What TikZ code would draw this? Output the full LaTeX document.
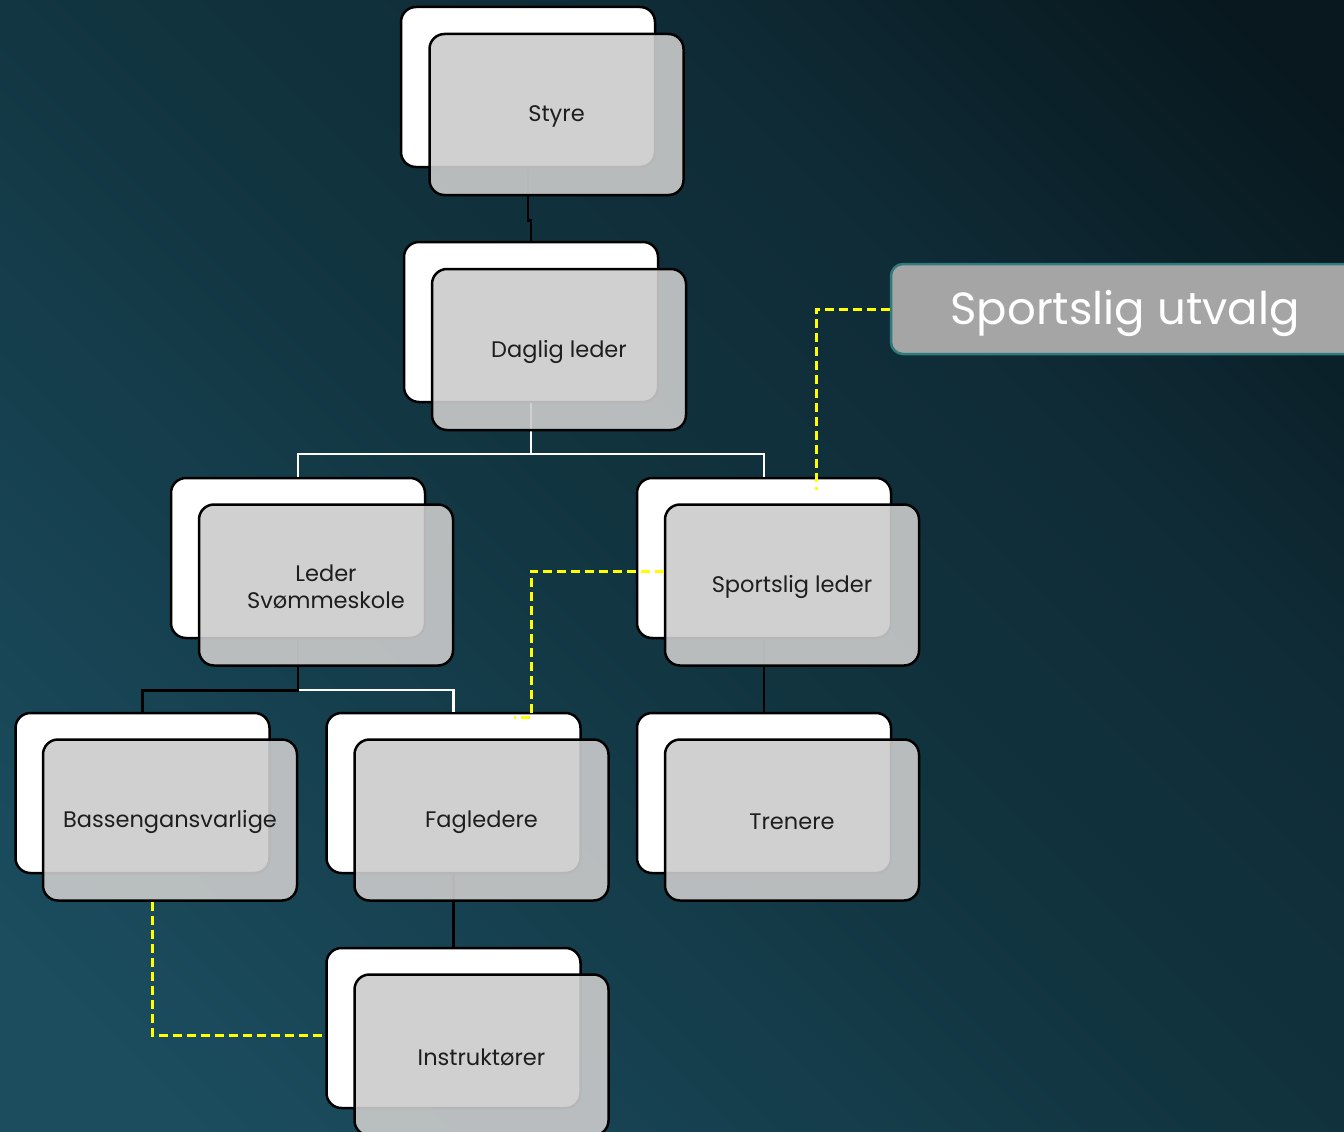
\documentclass[tikz,border=0pt]{standalone}
\usepackage{fontspec}
\setmainfont{Poppins}
\definecolor{bgA}{RGB}{27,77,95}
\definecolor{bgB}{RGB}{22,64,79}
\definecolor{bgC}{RGB}{17,52,63}
\definecolor{bgD}{RGB}{15,43,54}
\definecolor{bgE}{RGB}{8,24,30}
\pgfdeclareverticalshading{bgshade}{100bp}{color(0bp)=(bgA); color(20bp)=(bgA); color(35bp)=(bgB); color(50bp)=(bgC); color(66bp)=(bgD); color(82bp)=(bgE); color(100bp)=(bgE)}
\begin{document}
\begin{tikzpicture}[x=1pt,y=-1pt,
  back/.style={draw=black,line width=2.5pt,fill=white,rounded corners=15pt,minimum width=254pt,minimum height=160pt,inner sep=0pt},
  front/.style={draw=black,line width=2.5pt,fill={rgb,255:red,203;green,203;blue,203},fill opacity=0.9,rounded corners=15pt,minimum width=254pt,minimum height=161pt,inner sep=0pt},
  lbl/.style={text={rgb,255:red,30;green,30;blue,30},font=\fontsize{22.5}{27}\selectfont,align=center,yshift=-2pt},
  blk/.style={draw=black,line width=2.5pt},
  wht/.style={draw=white,line width=2.2pt},
  yel/.style={draw={rgb,255:red,255;green,255;blue,0},line width=3pt,dash pattern=on 9pt off 5pt}]
\useasboundingbox (0,0) rectangle (1344,1132);
\clip (0,0) rectangle (1344,1132);
\shade[shading=bgshade,shading angle=-45] (0,0) rectangle (1344,1132);
% back boxes
\node[back] (sw) at (528,87) {};
\node[back] (dw) at (531,322) {};
\node[back] (lsw) at (298,558) {};
\node[back] (slw) at (764,558) {};
\node[back] (baw) at (142.5,793) {};
\node[back] (faw) at (453.5,793) {};
\node[back] (trw) at (764,793) {};
\node[back] (inw) at (453.5,1028) {};
% connectors
\draw[wht] (dw.south) -- ++(0,51) -| (lsw.north);
\draw[wht] (dw.south) -- ++(0,51) -| (slw.north);
\draw[wht] (lsw.south) -- ++(0,51) -| (faw.north);
\draw[blk] (sw.south) -- ++(0,52) -| (dw.north);
\draw[blk] (lsw.south) -- ++(0,51) -| (baw.north);
\draw[blk] (slw.south) -- (trw.north);
\draw[blk] (faw.south) -- (inw.north);
% side box
\node[draw={rgb,255:red,47;green,122;blue,124},line width=2.5pt,fill={rgb,255:red,165;green,165;blue,165},rounded corners=12pt,minimum width=470pt,minimum height=90pt,inner sep=0pt] (su) at (1126,309) {};
\node[text=white,font=\fontsize{45}{54}\selectfont] (sut) at (1125,313) {Sportslig utvalg};
% front boxes
\node[front] (sg) at (556.5,114.5) {};
\node[front] (dg) at (559,349.5) {};
\node[front] (lsg) at (326,585) {};
\node[front] (slg) at (792,585) {};
\node[front] (bag) at (170,820) {};
\node[front] (fag) at (481.5,820) {};
\node[front] (trg) at (792,820) {};
\node[front] (ing) at (481.5,1055) {};
% yellow dashed links
\coordinate (y1) at (816,490);
\coordinate (y2) at (514,717);
\coordinate (c2) at (531,571);
\coordinate (c3) at (531,717);
\draw[yel] (su.west) -| (y1);
\draw[yel] ([yshift=14pt]slg.west) -- (c2) -- (c3) -- (y2);
\draw[yel] ([xshift=-18pt]bag.south) |- ([yshift=-7pt]inw.west);
% labels
\node[lbl] at (sg) {Styre};
\node[lbl] at (dg) {Daglig leder};
\node[lbl] at (lsg) {Leder\\Svømmeskole};
\node[lbl] at (slg) {Sportslig leder};
\node[lbl] at (bag) {Bassengansvarlige};
\node[lbl] at (fag) {Fagledere};
\node[lbl] at (trg) {Trenere};
\node[lbl] at (ing) {Instruktører};
\end{tikzpicture}
\end{document}
